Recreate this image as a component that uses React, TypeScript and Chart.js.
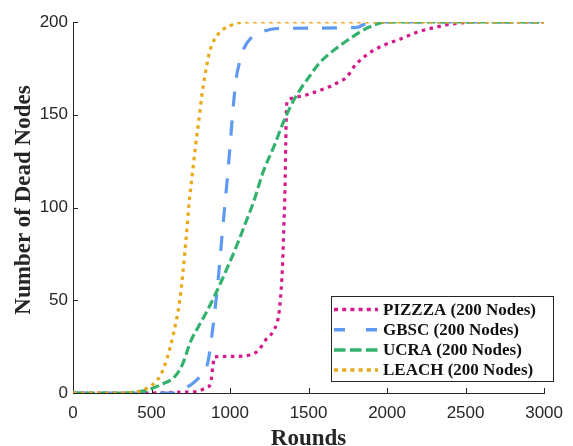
import React, { useEffect, useRef } from "react";
import { Chart, registerables } from "chart.js";

Chart.register(...registerables);

const seriesLabels = ["PIZZZA (200 Nodes)", "GBSC (200 Nodes)", "UCRA (200 Nodes)", "LEACH (200 Nodes)"];
const xTitle = "Rounds";
const yTitle = "Number of Dead Nodes";

const pizzzaRounds = [0, 500, 700, 800, 840, 870, 880, 890, 900, 1000, 1130, 1180, 1230, 1280, 1310, 1325, 1335, 1342, 1350, 1355, 1360, 1370, 1400, 1480, 1550, 1630, 1700, 1740, 1800, 1900, 1980, 2090, 2190, 2300, 2420, 2600, 3000];
const pizzzaDead = [0, 0, 0.5, 1, 2.5, 4, 7, 14, 19.5, 19.7, 20.5, 23, 29, 34, 42, 55, 70, 88, 110, 135, 155, 158, 159, 160.5, 162.5, 165, 168, 170, 177, 184, 187.5, 191, 194.5, 197, 199, 200, 200];

const gbscRounds = [0, 650, 700, 760, 800, 840, 860, 880, 900, 920, 940, 960, 980, 1000, 1020, 1040, 1060, 1090, 1130, 1200, 1300, 1800, 1900, 3000];
const gbscDead = [0, 0, 2, 5, 8, 12, 17, 28, 42, 57, 76, 95, 113, 133, 154, 170, 178, 186, 191, 194.5, 196.5, 197, 200, 200];

const ucraRounds = [0, 300, 400, 480, 560, 650, 700, 750, 800, 840, 900, 980, 1050, 1100, 1150, 1210, 1280, 1340, 1400, 1450, 1500, 1560, 1620, 1680, 1780, 1880, 2000, 3000];
const ucraDead = [0, 0, 0.5, 1.8, 4.5, 9, 16, 28, 36, 42, 52, 67, 81, 92, 103, 119, 133, 146, 157, 164, 170, 177, 182, 186, 192, 197, 200, 200];

const leachRounds = [0, 300, 400, 480, 520, 560, 600, 640, 680, 700, 720, 740, 760, 780, 800, 820, 840, 870, 920, 1000, 1100, 3000];
const leachDead = [0, 0, 0.5, 3, 5.5, 10, 19, 32, 50, 65, 83, 103, 118, 133, 146, 160, 171, 184, 193, 198, 200, 200];

const xTicks = [0, 500, 1000, 1500, 2000, 2500, 3000];
const yTicks = [0, 50, 100, 150, 200];

const colors = ["#D6198A", "#5E9AF0", "#33B26E", "#E8A918"];
const plotDashes = [[3.5, 4.5], [15, 14], [9, 4], [3.5, 4.5]];
const legendDashes = [[4, 4.2], [11, 21], [11.5, 4.5], [4, 4.2]];
const axisColor = "#262626";

const toPoints = (xs: number[], ys: number[]) => xs.map((x, i) => ({ x, y: ys[i] }));

const axesPlugin = {
  id: "matlabAxes",
  beforeDatasetsDraw(chart: any) {
    const { ctx, chartArea: a } = chart;
    const xs = chart.scales.x;
    const ys = chart.scales.y;
    ctx.save();
    ctx.strokeStyle = axisColor;
    ctx.lineWidth = 1;
    ctx.beginPath();
    xTicks.forEach((v) => {
      const px = Math.round(xs.getPixelForValue(v)) + 0.5;
      ctx.moveTo(px, a.bottom);
      ctx.lineTo(px, a.bottom - 5);
    });
    yTicks.forEach((v) => {
      const py = Math.round(ys.getPixelForValue(v)) + 0.5;
      ctx.moveTo(a.left, py);
      ctx.lineTo(a.left + 5, py);
    });
    ctx.stroke();
    ctx.restore();
  },
  afterDraw(chart: any) {
    const { ctx, chartArea: a } = chart;
    ctx.save();
    ctx.fillStyle = axisColor;
    ctx.font = "bold 23px 'Liberation Serif', 'Times New Roman', serif";
    ctx.textAlign = "center";
    ctx.textBaseline = "alphabetic";
    ctx.fillText(xTitle, (a.left + a.right) / 2, 445);
    ctx.save();
    ctx.translate(30, 200);
    ctx.rotate(-Math.PI / 2);
    ctx.fillText(yTitle, 0, 0);
    ctx.restore();

    const bx = 331.5, by = 296.5, bw = 222, bh = 85;
    ctx.fillStyle = "#ffffff";
    ctx.fillRect(bx, by, bw, bh);
    ctx.strokeStyle = axisColor;
    ctx.lineWidth = 1;
    ctx.setLineDash([]);
    ctx.strokeRect(bx, by, bw, bh);
    ctx.font = "bold 17px 'Liberation Serif', 'Times New Roman', serif";
    ctx.textAlign = "left";
    ctx.textBaseline = "middle";
    seriesLabels.forEach((label, i) => {
      const ry = 309.5 + i * 20.2;
      ctx.strokeStyle = colors[i];
      ctx.lineWidth = 3.5;
      ctx.lineCap = "butt";
      ctx.setLineDash(legendDashes[i]);
      ctx.beginPath();
      ctx.moveTo(334, ry);
      ctx.lineTo(378, ry);
      ctx.stroke();
      ctx.setLineDash([]);
      ctx.fillStyle = "#111111";
      ctx.fillText(label, 383, ry + 1);
    });
    ctx.restore();
  },
};

export default function App() {
  const canvasRef = useRef<HTMLCanvasElement | null>(null);

  useEffect(() => {
    if (!canvasRef.current) return;
    const series = [
      toPoints(pizzzaRounds, pizzzaDead),
      toPoints(gbscRounds, gbscDead),
      toPoints(ucraRounds, ucraDead),
      toPoints(leachRounds, leachDead),
    ];
    const orders = [3, 2, 1, 0];
    const tickFont = { family: "'Liberation Sans', Arial, sans-serif", size: 17 };
    const chart = new Chart(canvasRef.current, {
      type: "line",
      data: {
        datasets: series.map((data, i) => ({
          label: seriesLabels[i],
          data,
          borderColor: colors[i],
          backgroundColor: colors[i],
          borderWidth: 3.2,
          borderDash: plotDashes[i],
          borderCapStyle: "butt",
          pointRadius: 0,
          fill: false,
          cubicInterpolationMode: "monotone",
          order: orders[i],
        })),
      },
      options: {
        responsive: false,
        animation: false,
        layout: { padding: { left: 0, right: 21, top: 22, bottom: 0 } },
        plugins: {
          legend: { display: false },
          tooltip: { enabled: false },
        },
        scales: {
          x: {
            type: "linear",
            min: 0,
            max: 3000,
            afterFit: (s: any) => {
              s.height = 53;
            },
            afterBuildTicks: (s: any) => {
              s.ticks = xTicks.map((v) => ({ value: v }));
            },
            grid: { display: false, drawTicks: false },
            border: { display: true, color: axisColor, width: 1 },
            ticks: {
              padding: 10,
              color: axisColor,
              maxRotation: 0,
              font: tickFont,
              callback: (v: any) => String(v),
            },
          },
          y: {
            type: "linear",
            min: 0,
            max: 200,
            afterFit: (s: any) => {
              s.width = 73;
            },
            afterBuildTicks: (s: any) => {
              s.ticks = yTicks.map((v) => ({ value: v }));
            },
            grid: { display: false, drawTicks: false },
            border: { display: true, color: axisColor, width: 1 },
            ticks: {
              padding: 5,
              color: axisColor,
              font: tickFont,
              callback: (v: any) => String(v),
            },
          },
        },
      },
      plugins: [axesPlugin],
    } as any);
    return () => chart.destroy();
  }, []);

  return (
    <div style={{ position: "absolute", left: 0, top: 0, width: 573, height: 446, background: "#fff" }}>
      <canvas ref={canvasRef} width={573} height={446} style={{ display: "block" }} />
    </div>
  );
}
